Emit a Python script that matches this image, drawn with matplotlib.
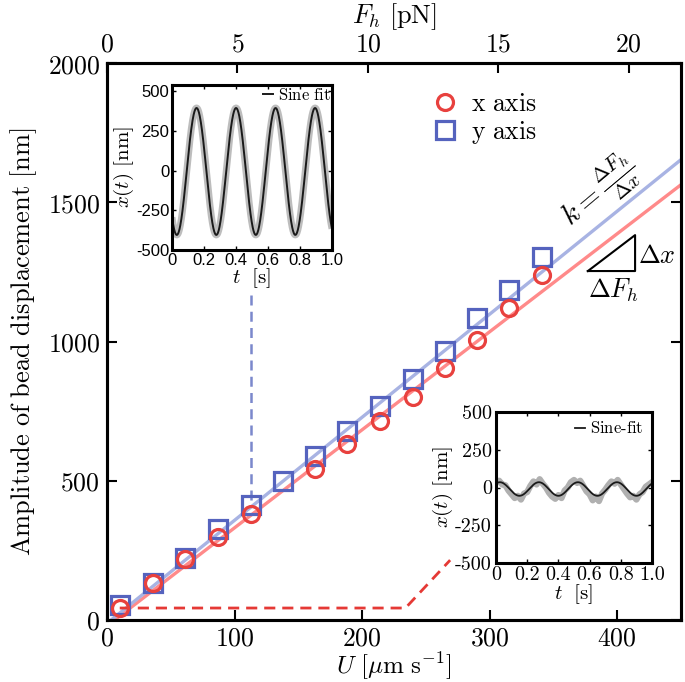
import numpy as np
import matplotlib
matplotlib.use('Agg')
import matplotlib.pyplot as plt
from matplotlib.ticker import FuncFormatter

plt.rcParams['mathtext.fontset'] = 'cm'
plt.rcParams['font.family'] = 'DejaVu Serif'
plt.rcParams['axes.unicode_minus'] = False

# ---------------- data ----------------
U_x = [10, 36, 61, 87, 113, 163, 188, 214, 240, 265, 290, 315, 341]
A_x = [43, 133, 219, 298, 381, 542, 632, 715, 801, 905, 1005, 1120, 1239]
U_y = [10, 36, 61, 87, 113, 138, 163, 188, 214, 240, 265, 290, 315, 341]
A_y = [54, 133, 223, 327, 413, 499, 589, 679, 768, 865, 966, 1084, 1185, 1303]

fit_x = (3.52, -21.0)   # slope, intercept
fit_y = (3.70, -12.0)
U_range = (0, 450)
F_range = (0, 22)

guide_red_U = [10, 234, 269]
guide_red_A = [43, 43, 215]
guide_blue_U = [113, 113]
guide_blue_A = [431, 1174]

tri_U = [377, 414, 414, 377]
tri_A = [1253, 1253, 1382, 1253]

# inset sine fits: amplitude, frequency, phase time, offset
sine1 = (-400.0, 4.05, 0.03, -5.0)
sine2 = (45.0, 4.0, 0.025, -10.0)

# measured trace (inset 2), sampled every 0.02 s
t2_meas = [i * 0.02 for i in range(51)]
x2_meas = [30, 45, 20, 15, -20, -45, -70, -55, -80, -40, -30, 10, 40, 20, 55, 25,
           0, -35, -60, -75, -50, -70, -20, 0, 35, 50, 30, 45, 10, -25, -45, -85,
           -60, -90, -40, -15, 15, 40, 25, 50, 20, -10, -40, -65, -55, -80, -45,
           -30, 5, 20, 35]

main_xticks = [0, 100, 200, 300, 400]
main_yticks = [0, 500, 1000, 1500, 2000]
top_xticks = [0, 5, 10, 15, 20]
inset_xticks = [0, 0.2, 0.4, 0.6, 0.8, 1.0]
inset_xlabels = ['0', '0.2', '0.4', '0.6', '0.8', '1.0']
inset_yticks = [-500, -250, 0, 250, 500]
inset_ylabels = ['-500', '-250', '0', '250', '500']

# ---------------- figure ----------------
W, H = 685, 682
fig = plt.figure(figsize=(W / 100, H / 100), dpi=100)
ax = fig.add_axes([107 / W, 1 - 620 / H, (681 - 107) / W, (620 - 63) / H])

RED = '#E8413E'
BLUE = '#5563BE'
U_line = np.linspace(U_range[0], U_range[1], 200)
ax.plot(U_line, fit_x[0] * U_line + fit_x[1], color='#FF8A8A', lw=2.4, zorder=2)
ax.plot(U_line, fit_y[0] * U_line + fit_y[1], color='#A8B3E3', lw=2.4, zorder=2)

ax.plot(guide_red_U, guide_red_A, '--', color='#E53935', lw=2.0, dashes=(4, 2.5), zorder=2)
ax.plot(guide_blue_U, guide_blue_A, '--', color='#7B88CC', lw=1.8, dashes=(4, 2.5), zorder=2)

hy, = ax.plot(U_y, A_y, 's', ms=13, mfc='none', mec=BLUE, mew=2.3, zorder=3,
              label=r'$\mathrm{y\ axis}$')
hx, = ax.plot(U_x, A_x, 'o', ms=11.5, mfc='none', mec=RED, mew=2.3, zorder=4,
              label=r'$\mathrm{x\ axis}$')

ax.plot(tri_U, tri_A, color='black', lw=1.5, zorder=3)
ax.text(431, 1310, r'$\Delta x$', fontsize=19, ha='center', va='center')
ax.text(397, 1185, r'$\Delta F_h$', fontsize=19, ha='center', va='center')
ax.text(386, 1540, r'$k=\frac{\Delta F_h}{\Delta x}$', fontsize=21, rotation=40,
        ha='center', va='center', rotation_mode='anchor')

ax.set_xlim(*U_range)
ax.set_ylim(0, 2000)
ax.set_xticks(main_xticks)
ax.set_yticks(main_yticks)
fmt = FuncFormatter(lambda v, p: f'${v:g}$')
ax.xaxis.set_major_formatter(fmt)
ax.yaxis.set_major_formatter(fmt)
ax.tick_params(direction='in', length=7, width=1.5, labelsize=18.5, right=True, top=False)
ax.tick_params(axis='x', pad=4)
ax.tick_params(axis='y', pad=5)
for s in ax.spines.values():
    s.set_linewidth(2.2)
ax.set_xlabel(r'$U\ [\mu\mathrm{m\ s}^{-1}]$', fontsize=18, labelpad=0)
ax.set_ylabel(r'$\mathrm{Amplitude\ of\ bead\ displacement\ [nm]}$', fontsize=19, labelpad=6)

axt = ax.twiny()
axt.set_xlim(*F_range)
axt.set_xticks(top_xticks)
axt.xaxis.set_major_formatter(fmt)
axt.tick_params(direction='in', length=7, width=1.5, labelsize=18.5, pad=5)
axt.set_xlabel(r'$F_h\ [\mathrm{pN}]$', fontsize=19, labelpad=6)
for s in axt.spines.values():
    s.set_linewidth(2.2)

ax.legend(handles=[hx, hy], loc='upper left', bbox_to_anchor=(0.567, 0.95),
          frameon=False, fontsize=18.5, handlelength=1.0, handletextpad=0.5,
          labelspacing=0.12, borderpad=0, borderaxespad=0)

# ---------------- inset 1 ----------------
t = np.linspace(0, 1, 600)
def sine(p):
    a, f, t0, c = p
    return a * np.cos(2 * np.pi * f * (t - t0)) + c

ax1 = fig.add_axes([172 / W, 1 - 250 / H, (332 - 172) / W, (250 - 85) / H])
ax1.plot(t, sine(sine1), color='#bdbdbd', lw=5, solid_capstyle='butt')
ax1.plot(t, sine(sine1), color='#1a1a1a', lw=1.4, label=r'$\mathrm{Sine\ fit}$')
ax1.set_xlim(0, 1)
ax1.set_ylim(-500, 540)
ax1.set_xticks(inset_xticks)
ax1.set_xticklabels(inset_xlabels, fontfamily='Liberation Sans', fontsize=12)
ax1.set_yticks(inset_yticks)
ax1.set_yticklabels(inset_ylabels, fontfamily='Liberation Sans', fontsize=12)
ax1.tick_params(direction='in', length=3, width=1, top=True, right=True, pad=2)
for s in ax1.spines.values():
    s.set_linewidth(2.2)
ax1.set_xlabel(r'$t\ \ [\mathrm{s}]$', fontsize=15, labelpad=-1)
ax1.set_ylabel(r'$x(t)\ [\mathrm{nm}]$', fontsize=15, labelpad=0)
ax1.legend(loc='upper right', frameon=False, fontsize=12, handlelength=0.6,
           handletextpad=0.3, borderpad=0.1, borderaxespad=0.0)

# ---------------- inset 2 ----------------
ax2 = fig.add_axes([496 / W, 1 - 563 / H, (652 - 496) / W, (563 - 412) / H])
ax2.plot(t2_meas, x2_meas, color='#b0b0b0', lw=4.5, solid_joinstyle='round')
ax2.plot(t, sine(sine2), color='#1a1a1a', lw=1.3, label=r'$\mathrm{Sine\text{-}fit}$')
ax2.set_xlim(0, 1)
ax2.set_ylim(-500, 500)
ax2.set_xticks(inset_xticks)
ax2.set_xticklabels(inset_xlabels, fontfamily='cmr10', fontsize=14.5)
ax2.set_yticks(inset_yticks)
ax2.set_yticklabels(inset_ylabels, fontfamily='cmr10', fontsize=14.5)
ax2.tick_params(direction='in', length=3, width=1, top=True, right=True, pad=2)
ax2.tick_params(axis='y', pad=3)
for s in ax2.spines.values():
    s.set_linewidth(2.2)
ax2.set_xlabel(r'$t\ \ [\mathrm{s}]$', fontsize=15, labelpad=-1)
ax2.set_ylabel(r'$x(t)\ [\mathrm{nm}]$', fontsize=15, labelpad=0)
ax2.legend(loc='upper right', frameon=False, fontsize=12, handlelength=0.6,
           handletextpad=0.3, borderpad=0.3, borderaxespad=0.2)

fig.savefig('out.png', dpi=100)
